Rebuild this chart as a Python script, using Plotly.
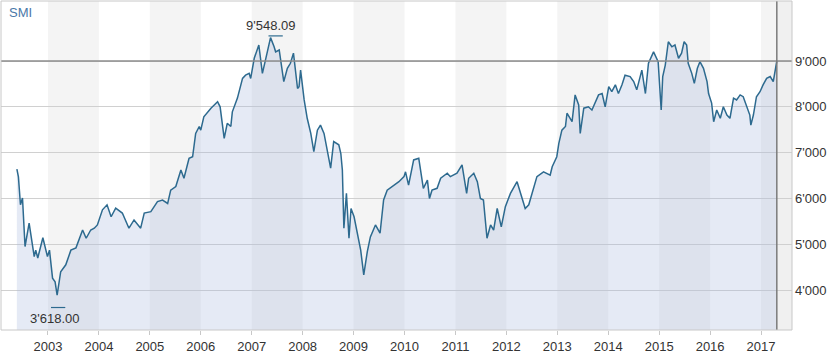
import plotly.graph_objects as go

# ---- data ----
dates = [
    2002.39, 2002.42, 2002.46, 2002.50, 2002.55, 2002.63, 2002.73, 2002.76, 2002.80, 2002.90,
    2002.99, 2003.03, 2003.09, 2003.14, 2003.18, 2003.25, 2003.35, 2003.45, 2003.55, 2003.68,
    2003.75, 2003.84, 2003.91, 2003.97, 2004.07, 2004.16, 2004.24, 2004.33, 2004.46, 2004.59,
    2004.69, 2004.82, 2004.89, 2005.02, 2005.15, 2005.25, 2005.35, 2005.41, 2005.51, 2005.61,
    2005.67, 2005.77, 2005.84, 2005.90, 2005.97, 2006.00, 2006.06, 2006.20, 2006.33, 2006.38,
    2006.46, 2006.52, 2006.59, 2006.62, 2006.72, 2006.82, 2006.88, 2006.95, 2006.98, 2007.05,
    2007.14, 2007.21, 2007.27, 2007.37, 2007.44, 2007.47, 2007.54, 2007.60, 2007.63, 2007.70,
    2007.76, 2007.82, 2007.90, 2007.93, 2007.96, 2008.03, 2008.09, 2008.16, 2008.22, 2008.29,
    2008.35, 2008.42, 2008.55, 2008.61, 2008.71, 2008.75, 2008.78, 2008.81, 2008.86, 2008.91,
    2008.95, 2009.01, 2009.07, 2009.14, 2009.20, 2009.27, 2009.33, 2009.43, 2009.52, 2009.59,
    2009.66, 2009.79, 2009.89, 2009.99, 2010.02, 2010.08, 2010.18, 2010.28, 2010.37, 2010.45,
    2010.49, 2010.54, 2010.64, 2010.71, 2010.84, 2010.90, 2011.03, 2011.13, 2011.22, 2011.26,
    2011.36, 2011.43, 2011.49, 2011.55, 2011.62, 2011.69, 2011.75, 2011.82, 2011.90, 2011.98,
    2012.08, 2012.21, 2012.27, 2012.37, 2012.44, 2012.60, 2012.73, 2012.86, 2012.90, 2012.99,
    2013.03, 2013.09, 2013.16, 2013.19, 2013.29, 2013.35, 2013.42, 2013.45, 2013.52, 2013.61,
    2013.68, 2013.75, 2013.81, 2013.88, 2013.94, 2014.01, 2014.07, 2014.14, 2014.20, 2014.27,
    2014.33, 2014.43, 2014.50, 2014.56, 2014.66, 2014.73, 2014.79, 2014.89, 2014.98, 2015.04,
    2015.07, 2015.12, 2015.18, 2015.25, 2015.31, 2015.38, 2015.44, 2015.49, 2015.54, 2015.57,
    2015.64, 2015.69, 2015.75, 2015.80, 2015.87, 2015.94, 2015.97, 2016.03, 2016.07, 2016.13,
    2016.20, 2016.26, 2016.33, 2016.39, 2016.46, 2016.52, 2016.59, 2016.65, 2016.72, 2016.78,
    2016.80, 2016.85, 2016.91, 2016.98, 2017.04, 2017.11, 2017.18, 2017.24, 2017.31,
]
smi = [
    6640, 6470, 5860, 6010, 4950, 5460, 4730, 4870, 4700, 5140,
    4730, 4870, 4260, 4180, 3890, 4400, 4550, 4870, 4920, 5310,
    5130, 5310, 5350, 5420, 5750, 5860, 5600, 5790, 5680, 5350,
    5530, 5350, 5680, 5710, 5930, 5965, 5890, 6180, 6260, 6620,
    6440, 6875, 6910, 7420, 7570, 7490, 7780, 7970, 8110, 8000,
    7310, 7640, 7570, 7890, 8190, 8620, 8690, 8730, 8620, 9060,
    9350, 8730, 9020, 9510, 9310, 9200, 9240, 8730, 8550, 8840,
    8950, 9170, 8400, 8440, 8800, 8150, 7750, 7420, 7020, 7490,
    7600, 7420, 6660, 7240, 7170, 6980, 6620, 5350, 6110, 5130,
    5780, 5600, 5240, 4870, 4330, 4840, 5160, 5420, 5240, 5965,
    6180, 6290, 6365, 6475, 6580, 6290, 6840, 6875, 6220, 6400,
    6000, 6180, 6220, 6440, 6550, 6475, 6550, 6730, 6110, 6440,
    6550, 6365, 6000, 5965, 5130, 5420, 5310, 5780, 5380, 5820,
    6110, 6365, 6150, 5780, 5860, 6475, 6580, 6510, 6690, 6910,
    7200, 7490, 7570, 7860, 7675, 8260, 8040, 7420, 7970, 8000,
    7930, 8110, 8260, 8290, 8000, 8440, 8330, 8480, 8290, 8480,
    8690, 8660, 8550, 8370, 8800, 8290, 8950, 9200, 8985, 7930,
    8660, 8910, 9420, 9310, 9350, 9060, 9170, 9420, 9350, 8950,
    8730, 8510, 8840, 8985, 8840, 8550, 8290, 8080, 7675, 7930,
    7750, 8000, 7820, 7750, 8190, 8150, 8260, 8220, 8000, 7820,
    7600, 7820, 8220, 8330, 8480, 8620, 8660, 8550, 9000,
]
years = list(range(2003, 2018))
year_labels = [str(y) for y in years]
y_ticks = [4000, 5000, 6000, 7000, 8000, 9000]
y_tick_labels = ["4'000", "5'000", "6'000", "7'000", "8'000", "9'000"]
min_date, min_value, min_label = 2003.20, 3618.00, "3'618.00"
max_date, max_value, max_label = 2007.47, 9548.09, "9'548.09"
title = "SMI"

X_RANGE = [2002.078, 2017.608]
Y_RANGE = [3127, 10310]
FONT = "Liberation Sans, Arial, sans-serif"

fig = go.Figure()
fig.add_trace(go.Scatter(
    x=dates, y=smi, mode="lines",
    line=dict(color="#2d6a8f", width=1.5),
    fill="tozeroy", fillcolor="rgba(168,186,222,0.30)",
    hoverinfo="skip", showlegend=False,
))

shapes = []
# alternating year bands (odd years shaded)
for y in years:
    if y % 2 == 1:
        shapes.append(dict(type="rect", xref="x", yref="paper", x0=y, x1=min(y + 1, X_RANGE[1]),
                           y0=0, y1=1, fillcolor="#f4f4f4", line=dict(width=0), layer="below"))
# area after last date
shapes.append(dict(type="rect", xref="x", yref="paper", x0=dates[-1], x1=X_RANGE[1],
                   y0=0, y1=1, fillcolor="#f0f0f0", line=dict(width=0), layer="below"))
# last value line & last date line
shapes.append(dict(type="line", xref="paper", yref="y", x0=0, x1=1, y0=smi[-1], y1=smi[-1],
                   line=dict(color="#8c8c8c", width=1.5)))
shapes.append(dict(type="line", xref="x", yref="paper", x0=dates[-1], x1=dates[-1], y0=0, y1=1,
                   line=dict(color="#7a7a7a", width=1.5)))
# min / max markers
for d, v in [(min_date, min_value), (max_date, max_value)]:
    shapes.append(dict(type="line", xref="x", yref="y", x0=d - 0.14, x1=d + 0.14, y0=v, y1=v,
                       line=dict(color="#2d6a8f", width=1.2)))
# border
shapes.append(dict(type="rect", xref="paper", yref="paper", x0=0, x1=1, y0=0, y1=1,
                   line=dict(color="#c8c8c8", width=1)))

annotations = [
    dict(x=max_date - 0.1, y=max_value, xref="x", yref="y", text=max_label, showarrow=False,
         yanchor="bottom", yshift=1, font=dict(family=FONT, size=13, color="#333333")),
    dict(x=min_date - 0.08, y=min_value, xref="x", yref="y", text=min_label, showarrow=False,
         yanchor="top", yshift=-1, font=dict(family=FONT, size=13, color="#333333")),
    dict(x=0.008, y=0.995, xref="paper", yref="paper", text=title, showarrow=False,
         xanchor="left", yanchor="top", font=dict(family=FONT, size=13, color="#4a78a8")),
]

fig.update_layout(
    width=830, height=356,
    margin=dict(l=1, r=38, t=1, b=26),
    paper_bgcolor="white", plot_bgcolor="white",
    shapes=shapes, annotations=annotations,
    font=dict(family=FONT, size=13, color="#333333"),
    xaxis=dict(range=X_RANGE, tickvals=years, ticktext=year_labels, showgrid=False,
               zeroline=False, showline=False, ticks="outside", ticklen=4, tickcolor="#c8c8c8",
               tickfont=dict(family=FONT, size=13, color="#333333")),
    yaxis=dict(range=Y_RANGE, side="right", tickvals=y_ticks, ticktext=y_tick_labels,
               showgrid=True, gridcolor="#d0d0d0", gridwidth=1, zeroline=False, showline=False,
               ticks="", ticklabelstandoff=2,
               tickfont=dict(family=FONT, size=13, color="#333333")),
)

fig.write_html("out.html", config={"displayModeBar": False},
               post_script="document.body.style.margin='0';")
